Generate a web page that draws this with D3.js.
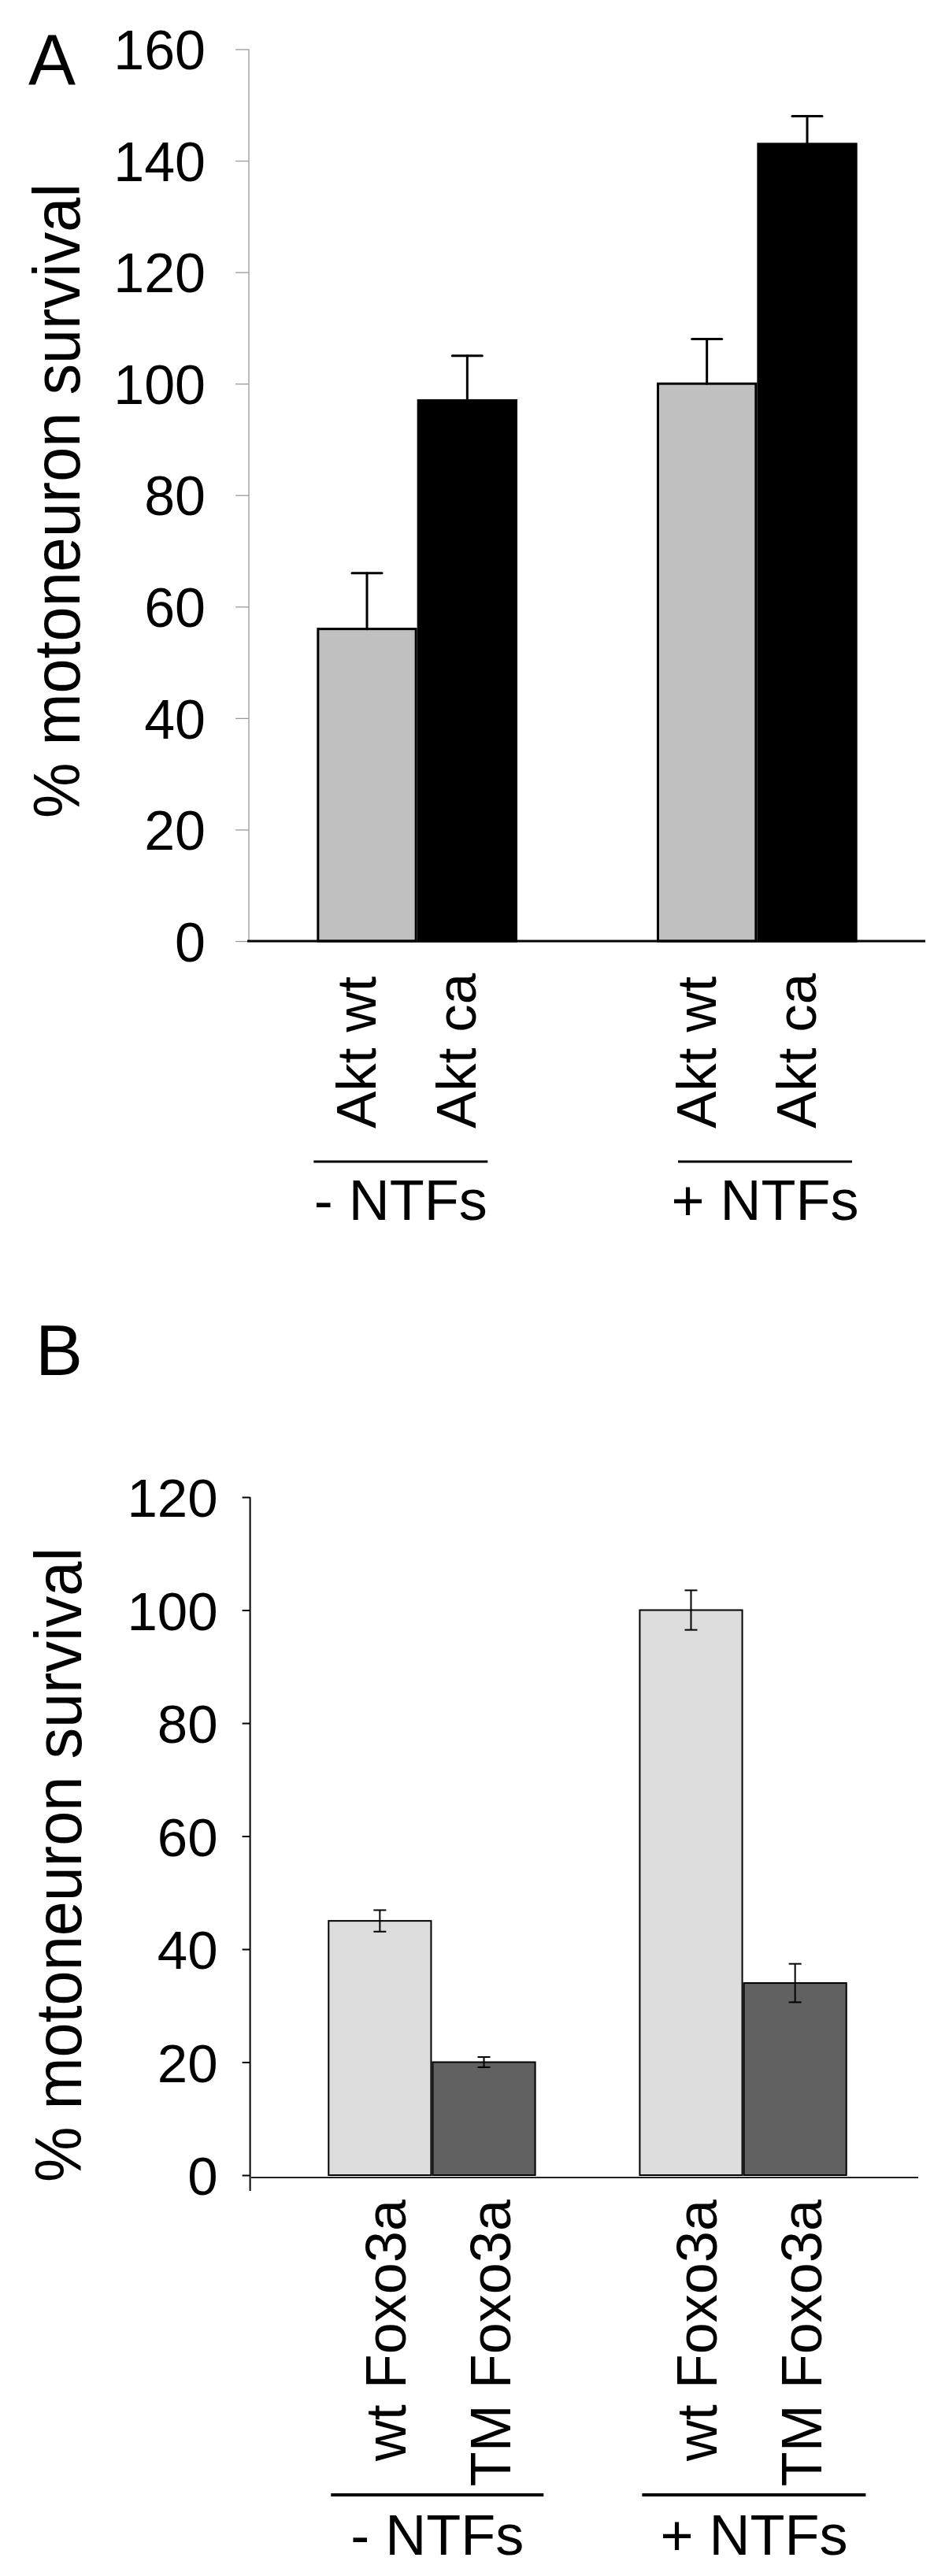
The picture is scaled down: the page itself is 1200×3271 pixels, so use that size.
<!DOCTYPE html>
<html>
<head>
<meta charset="utf-8">
<script src="https://cdn.jsdelivr.net/npm/d3@7"></script>
<style>
  body { margin: 0; background: #fff; }
  svg { display: block; font-family: 'Liberation Sans', Arial, sans-serif; }
</style>
</head>
<body>
<svg id="chart"></svg>
<script>
//
// Data
//

const groups = ['- NTFs', '+ NTFs'];
const yTitle = '% motoneuron survival';

// panel A: Akt
const seriesA = ['Akt wt', 'Akt ca'];
const valuesA = [[56, 97], [100, 143]];
const errorsA = [[10, 8], [8, 5]];
const ticksA = [0, 20, 40, 60, 80, 100, 120, 140, 160];

// panel B: Foxo3a
const seriesB = ['wt Foxo3a', 'TM Foxo3a'];
const valuesB = [[45, 20], [100, 34]];
const errorsB = [[1.9, 0.9], [3.5, 3.4]];
const ticksB = [0, 20, 40, 60, 80, 100, 120];

//
// Set-up
//

const width = 1200;
const height = 3271;

const svg = d3.select('#chart')
  .attr('width', width)
  .attr('height', height);

svg.append('rect')
  .attr('width', width)
  .attr('height', height)
  .attr('fill', '#fff');

// layout of each panel (positions only, values come from the arrays above)
const panelA = {
  letter: 'A', letterX: 36, letterY: 107,
  series: seriesA, values: valuesA, errors: errorsA, ticks: ticksA,
  yRange: [1195, 62.5],
  axisX: 316, axisBottom: 1195, axisColor: '#9a9a9a', axisWidth: 1.3, tickSize: 17,
  tickDx: -55, tickFont: 70,
  bandRange: [316, 1175], padInner: 0.41, padOuter: 0.2,
  baseX: [314, 1175], baseDy: 0, baseWidth: 3, baseColor: '#000',
  fills: ['#c0c0c0', '#000'], barStroke: 3,
  errWidth: 3, errCap: 38, errBoth: false, errLinecap: 'round',
  labelFont: 71, labelDx: 11, labelY: 1433, labelAnchor: 'start',
  lineY: 1475, lineWidth: 3, lineOffsets: [[-4, 217], [27, 248]],
  groupTextY: 1549, groupFont: 72,
  titleX: 101, titleY: 636
};

const panelB = {
  letter: 'B', letterX: 45, letterY: 1746,
  series: seriesB, values: valuesB, errors: errorsB, ticks: ticksB,
  yRange: [2762, 1901],
  axisX: 317.6, axisBottom: 2782, axisColor: '#000', axisWidth: 2, tickSize: 10,
  tickDx: -41, tickFont: 69,
  bandRange: [322, 1170], padInner: 0.331, padOuter: 0.2386,
  baseX: [319, 1166], baseDy: 3, baseWidth: 2, baseColor: '#222',
  fills: ['#dcdcdc', '#616161'], barStroke: 2,
  errWidth: 2, errCap: 16, errBoth: true, errLinecap: 'butt',
  labelFont: 72, labelDx: 33, labelY: 2793, labelAnchor: 'end',
  lineY: 3168, lineWidth: 4, lineOffsets: [[4, 274], [4, 288]],
  groupTextY: 3244, groupFont: 72,
  titleX: 103, titleY: 2368
};

//
// Draw one panel
//

function drawPanel(p) {
  const g = svg.append('g').attr('class', `panel panel${p.letter}`);

  const yScale = d3.scaleLinear()
    .domain([0, d3.max(p.ticks)])
    .range(p.yRange);

  const x0 = d3.scaleBand()
    .domain(groups)
    .range(p.bandRange)
    .paddingInner(p.padInner)
    .paddingOuter(p.padOuter);

  const x1 = d3.scaleBand()
    .domain(p.series)
    .range([0, x0.bandwidth()]);

  // panel letter
  g.append('text')
    .attr('x', p.letterX)
    .attr('y', p.letterY)
    .style('font-size', '90px')
    .text(p.letter);

  // y axis
  const yAxis = d3.axisLeft(yScale)
    .tickValues(p.ticks)
    .tickSize(p.tickSize)
    .tickPadding(0)
    .tickFormat(d3.format('d'));

  const axisG = g.append('g')
    .attr('class', 'y axis')
    .attr('transform', `translate(${p.axisX},0)`)
    .call(yAxis);

  axisG.select('.domain').remove();
  axisG.selectAll('.tick line')
    .attr('stroke', p.axisColor)
    .attr('stroke-width', p.axisWidth);
  axisG.selectAll('.tick text')
    .attr('x', p.tickDx)
    .attr('dy', '0.36em')
    .attr('fill', '#000')
    .style('font-size', `${p.tickFont}px`)
    .style('font-family', "'Liberation Sans', Arial, sans-serif");

  axisG.append('line')
    .attr('x1', 0).attr('x2', 0)
    .attr('y1', yScale(d3.max(p.ticks)))
    .attr('y2', p.axisBottom)
    .attr('stroke', p.axisColor)
    .attr('stroke-width', p.axisWidth);

  // y title
  g.append('text')
    .attr('transform', `translate(${p.titleX},${p.titleY}) rotate(-90)`)
    .attr('text-anchor', 'middle')
    .attr('textLength', 806)
    .attr('lengthAdjust', 'spacingAndGlyphs')
    .style('font-size', '84px')
    .text(yTitle);

  // bars
  const rows = [];
  groups.forEach((grp, gi) => {
    p.series.forEach((s, si) => {
      rows.push({ group: grp, series: s, si, value: p.values[gi][si], err: p.errors[gi][si] });
    });
  });

  const half = p.barStroke / 2;
  g.append('g').attr('class', 'bars')
    .selectAll('rect')
    .data(rows)
    .enter().append('rect')
      .attr('x', d => x0(d.group) + x1(d.series) + half)
      .attr('y', d => yScale(d.value))
      .attr('width', x1.bandwidth() - p.barStroke)
      .attr('height', d => yScale(0) - yScale(d.value))
      .attr('fill', d => p.fills[d.si])
      .attr('stroke', '#000')
      .attr('stroke-width', p.barStroke);

  // baseline
  g.append('line')
    .attr('x1', p.baseX[0]).attr('x2', p.baseX[1])
    .attr('y1', yScale(0) + p.baseDy).attr('y2', yScale(0) + p.baseDy)
    .attr('stroke', p.baseColor)
    .attr('stroke-width', p.baseWidth);

  // error bars
  const errG = g.append('g').attr('class', 'errors')
    .attr('stroke', '#000')
    .attr('stroke-width', p.errWidth)
    .attr('stroke-linecap', p.errLinecap);

  rows.forEach(d => {
    const cx = x0(d.group) + x1(d.series) + x1.bandwidth() / 2;
    const yTop = yScale(d.value + d.err);
    const yBot = p.errBoth ? yScale(d.value - d.err) : yScale(d.value);
    errG.append('line')
      .attr('x1', cx).attr('x2', cx)
      .attr('y1', yTop).attr('y2', yBot);
    errG.append('line')
      .attr('x1', cx - p.errCap / 2).attr('x2', cx + p.errCap / 2)
      .attr('y1', yTop).attr('y2', yTop);
    if (p.errBoth) {
      errG.append('line')
        .attr('x1', cx - p.errCap / 2).attr('x2', cx + p.errCap / 2)
        .attr('y1', yBot).attr('y2', yBot);
    }
  });

  // category labels (rotated)
  g.append('g').attr('class', 'labels')
    .selectAll('text')
    .data(rows)
    .enter().append('text')
      .attr('transform', d => {
        const lx = x0(d.group) + x1(d.series) + x1.bandwidth() / 2 + p.labelDx;
        return `translate(${lx},${p.labelY}) rotate(-90)`;
      })
      .attr('text-anchor', p.labelAnchor)
      .style('font-size', `${p.labelFont}px`)
      .text(d => d.series);

  // group lines and names
  groups.forEach((grp, gi) => {
    const lx0 = x0(grp) + p.lineOffsets[gi][0];
    const lx1 = x0(grp) + p.lineOffsets[gi][1];
    g.append('line')
      .attr('x1', lx0).attr('x2', lx1)
      .attr('y1', p.lineY).attr('y2', p.lineY)
      .attr('stroke', '#000')
      .attr('stroke-width', p.lineWidth);
    g.append('text')
      .attr('x', (lx0 + lx1) / 2)
      .attr('y', p.groupTextY)
      .attr('text-anchor', 'middle')
      .style('font-size', `${p.groupFont}px`)
      .text(grp);
  });
}

drawPanel(panelA);
drawPanel(panelB);
</script>
</body>
</html>
